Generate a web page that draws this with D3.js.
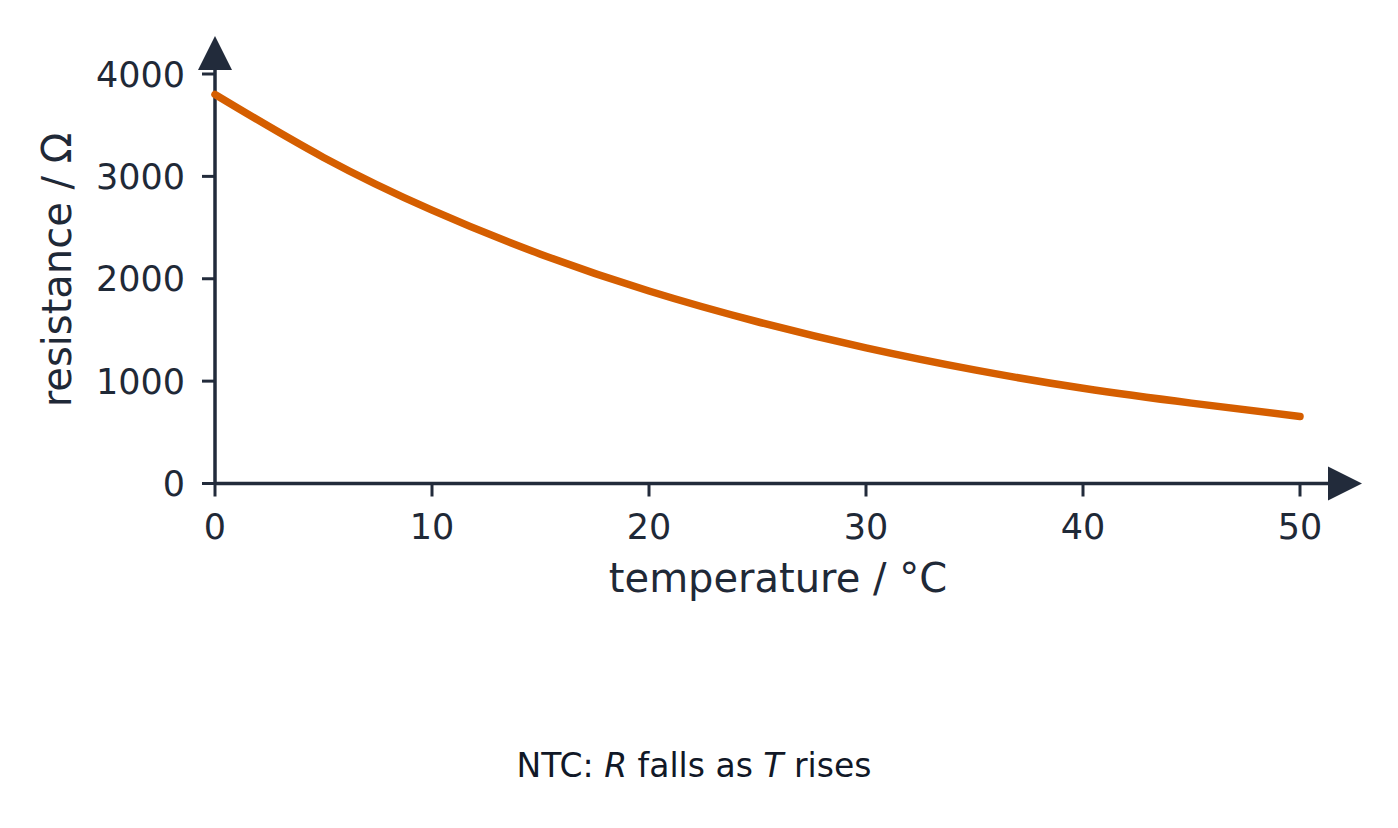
<!DOCTYPE html>
<html>
<head>
<meta charset="utf-8">
<script src="https://cdn.jsdelivr.net/npm/d3@7"></script>
<style>
  html, body { margin: 0; padding: 0; background: #ffffff; }
  svg { display: block; font-family: "DejaVu Sans", sans-serif; }
</style>
</head>
<body>
<div id="chart"></div>
<script>
// Readings: NTC thermistor resistance vs temperature
const temperatures = [0, 5, 10, 15, 20, 25, 30, 35, 40, 45, 50];
const resistances = [3800, 3185, 2670, 2240, 1880, 1580, 1325, 1110, 930, 785, 655];
const xTicks = [0, 10, 20, 30, 40, 50];
const yTicks = [0, 1000, 2000, 3000, 4000];

const width = 1398, height = 828;
const axisColor = "#222b3b";
const textColor = "#1f2937";

const svg = d3.select("#chart").append("svg")
    .attr("width", width)
    .attr("height", height);

svg.append("rect")
    .attr("width", width)
    .attr("height", height)
    .attr("fill", "#ffffff");

const x = d3.scaleLinear().domain([0, 50]).range([215, 1300]);
const y = d3.scaleLinear().domain([0, 4000]).range([483.5, 74]);

const x0 = x(0), y0 = y(0);

// Axis spines
const xEnd = x(50) + 28;
const yEnd = y(4000) - 4;

svg.append("line")
    .attr("x1", x0).attr("y1", y0)
    .attr("x2", xEnd).attr("y2", y0)
    .attr("stroke", axisColor).attr("stroke-width", 3.5);

svg.append("line")
    .attr("x1", x0).attr("y1", y0)
    .attr("x2", x0).attr("y2", yEnd)
    .attr("stroke", axisColor).attr("stroke-width", 3.5);

// Arrow heads
svg.append("polygon")
    .attr("points", `${xEnd},${y0 - 17} ${xEnd + 34},${y0} ${xEnd},${y0 + 17}`)
    .attr("fill", axisColor);

svg.append("polygon")
    .attr("points", `${x0 - 17},${yEnd} ${x0},${yEnd - 34} ${x0 + 17},${yEnd}`)
    .attr("fill", axisColor);

// Ticks and labels
const xAxis = svg.append("g");
xTicks.forEach(t => {
    xAxis.append("line")
        .attr("x1", x(t)).attr("x2", x(t))
        .attr("y1", y0).attr("y2", y0 + 13)
        .attr("stroke", axisColor).attr("stroke-width", 3);
    xAxis.append("text")
        .attr("x", x(t)).attr("y", 539)
        .attr("text-anchor", "middle")
        .attr("font-size", "35px")
        .attr("fill", textColor)
        .text(t);
});

const yAxis = svg.append("g");
yTicks.forEach(t => {
    yAxis.append("line")
        .attr("x1", x0 - 13).attr("x2", x0)
        .attr("y1", y(t)).attr("y2", y(t))
        .attr("stroke", axisColor).attr("stroke-width", 3);
    yAxis.append("text")
        .attr("x", 185).attr("y", y(t))
        .attr("dy", "0.36em")
        .attr("text-anchor", "end")
        .attr("font-size", "35px")
        .attr("fill", textColor)
        .text(t);
});

// Axis titles
svg.append("text")
    .attr("x", 778).attr("y", 592)
    .attr("text-anchor", "middle")
    .attr("font-size", "40px")
    .attr("fill", textColor)
    .text("temperature / °C");

svg.append("text")
    .attr("transform", "translate(71,270) rotate(-90)")
    .attr("text-anchor", "middle")
    .attr("font-size", "40px")
    .attr("fill", textColor)
    .text("resistance / Ω");

// Curve
const points = temperatures.map((t, i) => [t, resistances[i]]);
const line = d3.line()
    .x(d => x(d[0]))
    .y(d => y(d[1]))
    .curve(d3.curveNatural);

svg.append("path")
    .datum(points)
    .attr("d", line)
    .attr("fill", "none")
    .attr("stroke", "#d55e00")
    .attr("stroke-width", 7.5)
    .attr("stroke-linecap", "round")
    .attr("stroke-linejoin", "round");

// Caption
const caption = svg.append("text")
    .attr("x", 694).attr("y", 777)
    .attr("text-anchor", "middle")
    .attr("font-size", "33px")
    .attr("fill", "#111827");
caption.append("tspan").text("NTC: ");
caption.append("tspan").attr("font-style", "italic").text("R");
caption.append("tspan").text(" falls as ");
caption.append("tspan").attr("font-style", "italic").text("T");
caption.append("tspan").text(" rises");
</script>
</body>
</html>
